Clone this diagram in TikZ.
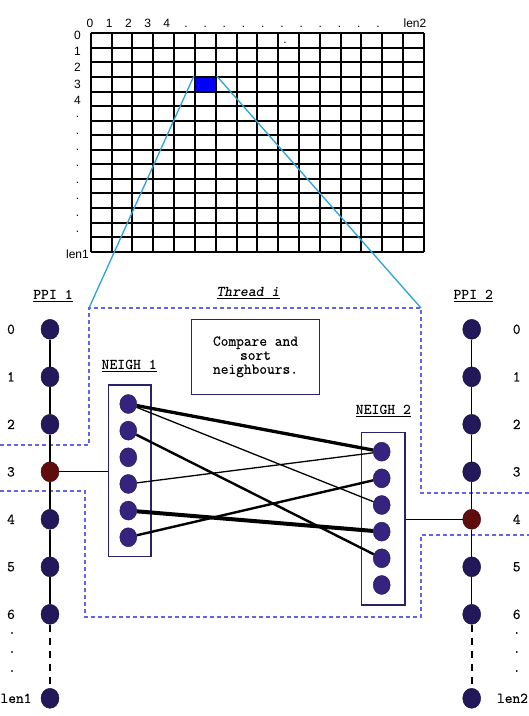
\documentclass[tikz,border=0pt]{standalone}
\usepackage{fontspec}
\usepackage{tikz}
\usetikzlibrary{shapes}

\newfontfamily\gridfont{Liberation Sans}
\newfontfamily\couriertt[FakeBold=0.6]{Latin Modern Mono}

\definecolor{ppicol}{HTML}{22185A}
\definecolor{neighcol}{HTML}{35237F}
\definecolor{hitcol}{HTML}{5E0C0C}
\definecolor{boxcol}{HTML}{2A2266}
\definecolor{threadcol}{HTML}{6464E6}
\definecolor{zoomcol}{HTML}{2BA3D6}

\begin{document}
\begin{tikzpicture}[x=1pt,y=-1pt,
	gridline/.style={line width=2pt},
	gridlabel/.style={font=\fontsize{12}{12}\selectfont\gridfont,inner sep=0pt},
	monotext/.style={font=\fontsize{15}{14}\selectfont\couriertt},
	title/.style={font=\fontsize{15}{14}\selectfont\ttfamily\bfseries},
	ppi/.style={ellipse,draw=ppicol!60!black,fill=ppicol,minimum width=18pt,minimum height=20pt,inner sep=0pt},
	hit/.style={ppi,draw=hitcol!60!black,fill=hitcol},
	neigh/.style={ellipse,draw=neighcol!60!black,fill=neighcol,minimum width=17pt,minimum height=19pt,inner sep=0pt},
	nbox/.style={rectangle,draw=boxcol,line width=1.5pt,inner sep=0pt},
	threadline/.style={draw=threadcol,line width=2pt,dash pattern=on 4pt off 3pt},
	zoomline/.style={draw=zoomcol,line width=1.3pt},
	link1/.style={line width=1.3pt},
	link2/.style={line width=2.4pt},
	link3/.style={line width=3.3pt},
	link4/.style={line width=4pt}]

	\clip (0,0) rectangle (529,716);

	\def\colsep{20.83}
	\def\rowsep{14.56}
	\def\ppisep{47.5}
	\def\neighsep{26.65}

	\foreach \i in {0,...,16}
		\draw[gridline] (90.7+\i*\colsep,33.3) -- (90.7+\i*\colsep,251.7);
	\foreach \j in {0,...,15}
		\draw[gridline] (90.7,33.3+\j*\rowsep) -- (424,33.3+\j*\rowsep);

	\foreach \i/\lab in {0/0,1/1,2/2,3/3,4/4,5/.,6/.,7/.,8/.,9/.,10/.,11/.,12/.,13/.,14/.,15/.}
		\node[gridlabel,anchor=base] (col\i) at (90+19.2*\i,27.3) {\lab};
	\node[gridlabel,anchor=base] (collen) at (415,27.3) {len2};
	\foreach \j/\lab in {0/0,1/1,2/2,3/3,4/4,5/.,6/.,7/.,8/.,9/.,10/.,11/.,12/.}
		\node[gridlabel] (row\j) at (77.5,35+16.4*\j) {\lab};
	\node[gridlabel] (rowlen) at (77.5,254) {len1};
	\node[gridlabel,anchor=base] (stray) at (285,43) {.};

	\node[rectangle,draw,fill=blue,line width=2pt,minimum width=20.83pt,minimum height=14.56pt,inner sep=0pt] (cell) at (90.7+5.5*\colsep,33.3+3.5*\rowsep) {};

	\coordinate (tl) at (89,308);
	\coordinate (tr) at (421,308);
	\draw[zoomline] (cell.north west) -- (tl);
	\draw[zoomline] (cell.north east) -- (tr);

	\draw[threadline] (0,445) -- (89,445) -- (tl) -- (tr) -- (421,493) -- (529,493);
	\draw[threadline] (0,491) -- (85,491) -- (85,617) -- (421,617) -- (421,535) -- (529,535);

	\node[title] (ppi1) at (53,295.7) {\underline{PPI 1}};
	\node[title] (ppi2) at (473.3,295.7) {\underline{PPI 2}};
	\node[title] (thread) at (248,293.3) {\underline{\textit{Thread i}}};
	\node[title] (neigh1) at (129.3,366) {\underline{NEIGH 1}};
	\node[title] (neigh2) at (383.5,410.7) {\underline{NEIGH 2}};

	\node[monotext,draw=boxcol,line width=1.5pt,minimum width=127.6pt,minimum height=75pt,align=center] (cmp) at (255.5,356.8) {Compare and\\sort\\neighbours.};

	\node[ppi] (a0) at (50,329.3) {};
	\node[ppi] (a1) at (50,329.3+\ppisep) {};
	\node[ppi] (a2) at (50,329.3+2*\ppisep) {};
	\node[hit] (a3) at (50,329.3+3*\ppisep) {};
	\node[ppi] (a4) at (50,329.3+4*\ppisep) {};
	\node[ppi] (a5) at (50,329.3+5*\ppisep) {};
	\node[ppi] (a6) at (50,329.3+6*\ppisep) {};
	\node[ppi] (alen) at (50,698.3) {};

	\node[ppi] (b0) at (471.7,329.3) {};
	\node[ppi] (b1) at (471.7,329.3+\ppisep) {};
	\node[ppi] (b2) at (471.7,329.3+2*\ppisep) {};
	\node[ppi] (b3) at (471.7,329.3+3*\ppisep) {};
	\node[hit] (b4) at (471.7,329.3+4*\ppisep) {};
	\node[ppi] (b5) at (471.7,329.3+5*\ppisep) {};
	\node[ppi] (b6) at (471.7,329.3+6*\ppisep) {};
	\node[ppi] (blen) at (471.7,698.3) {};

	\draw[line width=1.4pt] (a0) -- (a1) -- (a2) -- (a3) -- (a4) -- (a5) -- (a6);
	\draw[line width=2pt,dash pattern=on 7pt off 6pt] (a6) -- (alen);
	\draw[line width=1.4pt] (b0) -- (b1) -- (b2) -- (b3) -- (b4) -- (b5) -- (b6);
	\draw[line width=2pt,dash pattern=on 7pt off 6pt] (b6) -- (blen);

	\foreach \i in {0,...,6} {
		\node[monotext] (al\i) at (11,329.3+\i*\ppisep) {\i};
		\node[monotext] (bl\i) at (516.7,329.3+\i*\ppisep) {\i};
	}
	\node[monotext,inner sep=0pt] (allen) at (16,698.3) {len1};
	\node[monotext,inner sep=0pt] (bllen) at (512.5,698.3) {len2};
	\foreach \k/\y in {1/633,2/652,3/671} {
		\node[monotext,inner sep=0pt] (ad\k) at (12,\y) {.};
		\node[monotext,inner sep=0pt] (bd\k) at (516.7,\y) {.};
	}

	\node[nbox,minimum width=42.7pt,minimum height=171.7pt] (box1) at (129.65,470.85) {};
	\node[nbox,minimum width=43.3pt,minimum height=172.3pt] (box2) at (383.35,518.85) {};

	\node[neigh] (p0) at (128.3,404) {};
	\node[neigh] (p1) at (128.3,404+\neighsep) {};
	\node[neigh] (p2) at (128.3,404+2*\neighsep) {};
	\node[neigh] (p3) at (128.3,404+3*\neighsep) {};
	\node[neigh] (p4) at (128.3,404+4*\neighsep) {};
	\node[neigh] (p5) at (128.3,404+5*\neighsep) {};

	\node[neigh] (q0) at (381.7,451.7) {};
	\node[neigh] (q1) at (381.7,451.7+\neighsep) {};
	\node[neigh] (q2) at (381.7,451.7+2*\neighsep) {};
	\node[neigh] (q3) at (381.7,451.7+3*\neighsep) {};
	\node[neigh] (q4) at (381.7,451.7+4*\neighsep) {};
	\node[neigh] (q5) at (381.7,451.7+5*\neighsep) {};

	\draw[line width=1.3pt] (a3) -- (a3 -| box1.west);
	\draw[line width=1.3pt] (b4) -- (b4 -| box2.east);

	\draw[link3] (p0) -- (q0);
	\draw[link1] (p0) -- (q2);
	\draw[link2] (p1) -- (q4);
	\draw[link1] (p3) -- (q0);
	\draw[link4] (p4) -- (q3);
	\draw[link2] (p5) -- (q1);

\end{tikzpicture}
\end{document}
